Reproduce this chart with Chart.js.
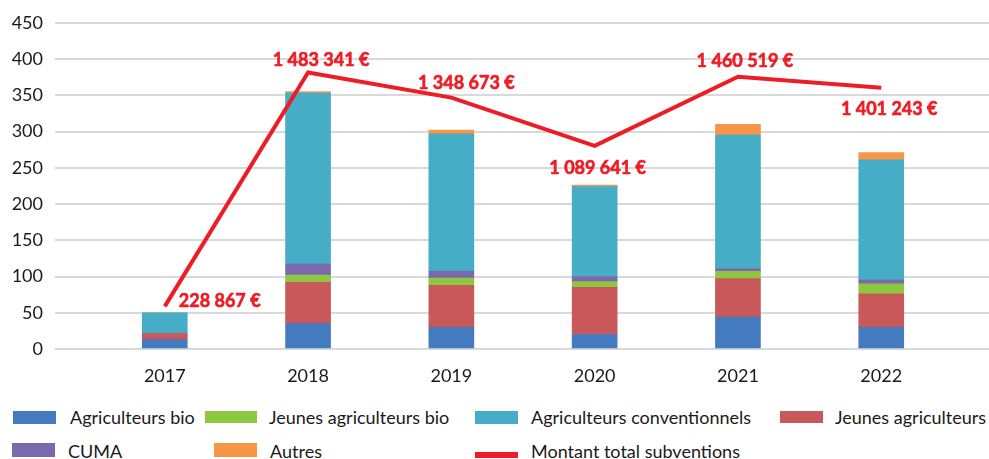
<!DOCTYPE html>
<html>
<head>
<meta charset="utf-8">
<script src="https://cdn.jsdelivr.net/npm/chart.js@4"></script>
<style>
  html, body { margin: 0; padding: 0; background: #ffffff; }
  #wrap { position: relative; width: 989px; height: 459px; overflow: hidden; font-family: Lato, sans-serif; }
  #c { position: absolute; left: 0; top: 0; }
  .lg-box { position: absolute; }
  .lg-text { position: absolute; font-size: 18px; color: #1a1a1a; white-space: nowrap; line-height: 22px; }
</style>
</head>
<body>
<div id="wrap">
  <canvas id="c" width="989" height="390"></canvas>
</div>
<script>
// ---- Data ----
const years = ['2017', '2018', '2019', '2020', '2021', '2022'];
const agriculteursBio = [13, 35, 30, 20, 44, 30];
const jeunesAgriculteurs = [8, 57, 58, 65, 53, 46];
const jeunesAgriculteursBio = [0, 10, 10, 8, 10, 14];
const cuma = [1, 15, 9, 7, 4, 5];
const agriculteursConventionnels = [28, 236, 190, 124, 184, 166];
const autres = [0, 2, 5, 2, 15, 10];
const montantTotal = [228867, 1483341, 1348673, 1089641, 1460519, 1401243];
const montantLabels = ['228 867 €', '1 483 341 €', '1 348 673 €', '1 089 641 €', '1 460 519 €', '1 401 243 €'];
const yTickMax = 450;
const yTickStep = 50;
const montantAxisMax = 1750000;

// ---- Styles ----
const COLORS = {
  bio: '#447AC0',
  jeunes: '#C8585A',
  jeunesBio: '#8DC641',
  cuma: '#7B69AE',
  conv: '#45ADC5',
  autres: '#F79646',
  line: '#EE1C25'
};
// label offsets (pixels) relative to each line point: [dx, dy, align]
const labelOffsets = [[14, -5, 'left'], [13, -12, 'center'], [15, -14, 'center'], [3, 22, 'center'], [7, -16, 'center'], [8, 21, 'center']];

function pts(arr) { return arr.map((v, i) => ({ x: i, y: v })); }

const barDefaults = { type: 'bar', barThickness: 45, borderWidth: 0, order: 1, yAxisID: 'y', stack: 's' };

const datasets = [
  { type: 'line', label: 'Montant total subventions', data: pts(montantTotal), yAxisID: 'y1',
    borderColor: COLORS.line, backgroundColor: COLORS.line, borderWidth: 4, pointRadius: 0, tension: 0, order: 0, fill: false },
  Object.assign({}, barDefaults, { label: 'Agriculteurs bio', data: pts(agriculteursBio), backgroundColor: COLORS.bio }),
  Object.assign({}, barDefaults, { label: 'Jeunes agriculteurs', data: pts(jeunesAgriculteurs), backgroundColor: COLORS.jeunes }),
  Object.assign({}, barDefaults, { label: 'Jeunes agriculteurs bio', data: pts(jeunesAgriculteursBio), backgroundColor: COLORS.jeunesBio }),
  Object.assign({}, barDefaults, { label: 'CUMA', data: pts(cuma), backgroundColor: COLORS.cuma }),
  Object.assign({}, barDefaults, { label: 'Agriculteurs conventionnels', data: pts(agriculteursConventionnels), backgroundColor: COLORS.conv }),
  Object.assign({}, barDefaults, { label: 'Autres', data: pts(autres), backgroundColor: COLORS.autres })
];

const labelPlugin = {
  id: 'montantLabels',
  afterDatasetsDraw(chart) {
    const meta = chart.getDatasetMeta(0);
    const ctx = chart.ctx;
    ctx.save();
    ctx.font = 'bold 18px Lato';
    ctx.fillStyle = COLORS.line;
    ctx.strokeStyle = COLORS.line;
    ctx.lineWidth = 0.6;
    ctx.textBaseline = 'middle';
    meta.data.forEach((p, i) => {
      const o = labelOffsets[i];
      ctx.textAlign = o[2];
      ctx.fillText(montantLabels[i], p.x + o[0], p.y + o[1]);
      ctx.strokeText(montantLabels[i], p.x + o[0], p.y + o[1]);
    });
    ctx.restore();
  }
};

function build() {
  Chart.defaults.font.family = 'Lato';
  Chart.defaults.color = '#1a1a1a';
  new Chart(document.getElementById('c'), {
    data: { datasets },
    options: {
      responsive: false,
      animation: false,
      layout: { padding: { top: 20, left: 0, right: 0, bottom: 0 } },
      plugins: { legend: { display: false }, tooltip: { enabled: false } },
      scales: {
        x: {
          type: 'linear', min: -0.766, max: 5.752, stacked: true, offset: false,
          grid: { display: false, offset: false }, border: { display: false },
          ticks: { stepSize: 1, includeBounds: false, padding: 8, font: { size: 18 }, color: '#1a1a1a',
            callback: (v) => Number.isInteger(v) && years[v] !== undefined ? years[v] : '' },
          afterFit: (s) => { s.height = 41; }
        },
        y: {
          type: 'linear', min: 0, max: yTickMax, stacked: true, position: 'left',
          grid: { color: '#d9d9d9', lineWidth: 2, drawTicks: false }, border: { display: false },
          ticks: { stepSize: yTickStep, padding: 12, font: { size: 18 }, color: '#1a1a1a' },
          afterFit: (s) => { s.width = 55; }
        },
        y1: { type: 'linear', min: 0, max: montantAxisMax, display: false, stacked: false }
      }
    },
    plugins: [labelPlugin]
  });

  // HTML legend
  const legendItems = [
    { label: 'Agriculteurs bio', color: COLORS.bio, box: [13, 411, 43, 13], text: [70, 406] },
    { label: 'Jeunes agriculteurs bio', color: COLORS.jeunesBio, box: [205, 411, 52, 12], text: [269, 406] },
    { label: 'Agriculteurs conventionnels', color: COLORS.conv, box: [475, 411, 43, 13], text: [531, 406] },
    { label: 'Jeunes agriculteurs', color: COLORS.jeunes, box: [780, 411, 43, 12], text: [835, 406] },
    { label: 'CUMA', color: COLORS.cuma, box: [12, 443, 43, 14], text: [68, 440] },
    { label: 'Autres', color: COLORS.autres, box: [214, 443, 43, 14], text: [270, 440] },
    { label: 'Montant total subventions', color: COLORS.line, box: [475, 452, 43, 6], text: [531, 440] }
  ];
  const wrap = document.getElementById('wrap');
  legendItems.forEach(it => {
    const b = document.createElement('div');
    b.className = 'lg-box';
    b.style.left = it.box[0] + 'px'; b.style.top = it.box[1] + 'px';
    b.style.width = it.box[2] + 'px'; b.style.height = it.box[3] + 'px';
    b.style.background = it.color;
    wrap.appendChild(b);
    const t = document.createElement('div');
    t.className = 'lg-text';
    t.style.left = it.text[0] + 'px'; t.style.top = it.text[1] + 'px';
    t.textContent = it.label;
    wrap.appendChild(t);
  });
}

if (document.fonts && document.fonts.load) {
  Promise.all([document.fonts.load('18px Lato'), document.fonts.load('bold 18px Lato')]).then(build, build);
} else { build(); }
</script>
</body>
</html>
